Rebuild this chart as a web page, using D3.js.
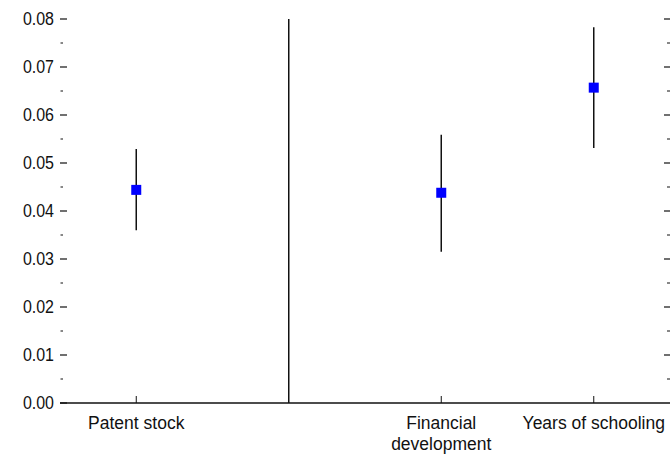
<!DOCTYPE html>
<html>
<head>
<meta charset="utf-8">
<script src="https://cdn.jsdelivr.net/npm/d3@7"></script>
<style>
  html, body { margin: 0; padding: 0; background: #fff; }
  svg text { font-family: "Liberation Sans", Arial, sans-serif; fill: #111; }
</style>
</head>
<body>
<svg id="chart" width="670" height="458"></svg>
<script>
// Coefficient estimates with confidence intervals
const categories = ["Patent stock", "", "Financial\ndevelopment", "Years of schooling"];
const estimates  = [0.0444, 0.12, 0.0438, 0.0657];
const lowerBound = [0.0360, -0.10, 0.0315, 0.0531];
const upperBound = [0.0529, 0.30, 0.0559, 0.0783];
const yTicks = [0, 0.01, 0.02, 0.03, 0.04, 0.05, 0.06, 0.07, 0.08];
const yMinorTicks = [0.005, 0.015, 0.025, 0.035, 0.045, 0.055, 0.065, 0.075];

const rows = categories.map((c, i) => ({ c, est: estimates[i], lo: lowerBound[i], hi: upperBound[i], i }));

const svg = d3.select("#chart");
const plotLeft = 60, plotRight = 670, plotTop = 19, plotBottom = 403;

const x = d3.scaleBand().domain(d3.range(categories.length)).range([plotLeft, plotRight]).padding(0);
const y = d3.scaleLinear().domain([0, 0.08]).range([plotBottom, plotTop]);
const cx = i => x(i) + x.bandwidth() / 2;

svg.append("defs").append("clipPath").attr("id", "plot")
  .append("rect").attr("x", plotLeft).attr("y", plotTop)
  .attr("width", plotRight - plotLeft).attr("height", plotBottom - plotTop);

// Left axis: labels + inward ticks
const yAxisLeft = svg.append("g");
yAxisLeft.selectAll("line.major").data(yTicks).join("line").attr("class", "major")
  .attr("x1", plotLeft).attr("x2", plotLeft + 7)
  .attr("y1", d => y(d)).attr("y2", d => y(d))
  .attr("stroke", "#111").attr("stroke-width", 1.2);
yAxisLeft.selectAll("line.minor").data(yMinorTicks).join("line").attr("class", "minor")
  .attr("x1", plotLeft + 0.5).attr("x2", plotLeft + 3)
  .attr("y1", d => y(d)).attr("y2", d => y(d))
  .attr("stroke", "#111").attr("stroke-width", 1);
yAxisLeft.selectAll("text").data(yTicks).join("text")
  .attr("transform", d => `translate(54,${y(d)}) scale(1,1.1)`)
  .attr("dy", "0.36em")
  .attr("text-anchor", "end").attr("font-size", 16)
  .text(d3.format(".2f"));

// Right axis: inward ticks only
const yAxisRight = svg.append("g");
yAxisRight.selectAll("line.major").data(yTicks.slice(1)).join("line").attr("class", "major")
  .attr("x1", plotRight - 6).attr("x2", plotRight)
  .attr("y1", d => y(d)).attr("y2", d => y(d))
  .attr("stroke", "#111").attr("stroke-width", 1.2);
yAxisRight.selectAll("line.minor").data(yMinorTicks).join("line").attr("class", "minor")
  .attr("x1", plotRight - 3).attr("x2", plotRight)
  .attr("y1", d => y(d)).attr("y2", d => y(d))
  .attr("stroke", "#111").attr("stroke-width", 1);

// Bottom axis
const xAxis = svg.append("g");
xAxis.append("line")
  .attr("x1", plotLeft).attr("x2", plotRight).attr("y1", plotBottom).attr("y2", plotBottom)
  .attr("stroke", "#111").attr("stroke-width", 1.5);
xAxis.selectAll("line.tick").data(rows.filter(r => r.c !== "")).join("line").attr("class", "tick")
  .attr("x1", d => cx(d.i)).attr("x2", d => cx(d.i))
  .attr("y1", plotBottom).attr("y2", plotBottom - 7)
  .attr("stroke", "#111").attr("stroke-width", 1);
xAxis.selectAll("text").data(rows).join("text")
  .attr("x", d => cx(d.i)).attr("y", plotBottom + 26)
  .attr("text-anchor", "middle").attr("font-size", 17.5)
  .each(function(d) {
    const lines = d.c.split("\n");
    d3.select(this).selectAll("tspan").data(lines).join("tspan")
      .attr("x", cx(d.i)).attr("dy", (l, k) => k === 0 ? 0 : 21)
      .text(l => l);
  });

// Error bars and point estimates
const marks = svg.append("g").attr("clip-path", "url(#plot)");
marks.selectAll("line.ci").data(rows).join("line").attr("class", "ci")
  .attr("x1", d => cx(d.i)).attr("x2", d => cx(d.i))
  .attr("y1", d => y(d.lo)).attr("y2", d => y(d.hi))
  .attr("stroke", "#111").attr("stroke-width", 1.5);
marks.selectAll("rect.pt").data(rows).join("rect").attr("class", "pt")
  .attr("x", d => cx(d.i) - 5).attr("y", d => y(d.est) - 5)
  .attr("width", 10).attr("height", 10)
  .attr("fill", "#0000ff");
</script>
</body>
</html>
